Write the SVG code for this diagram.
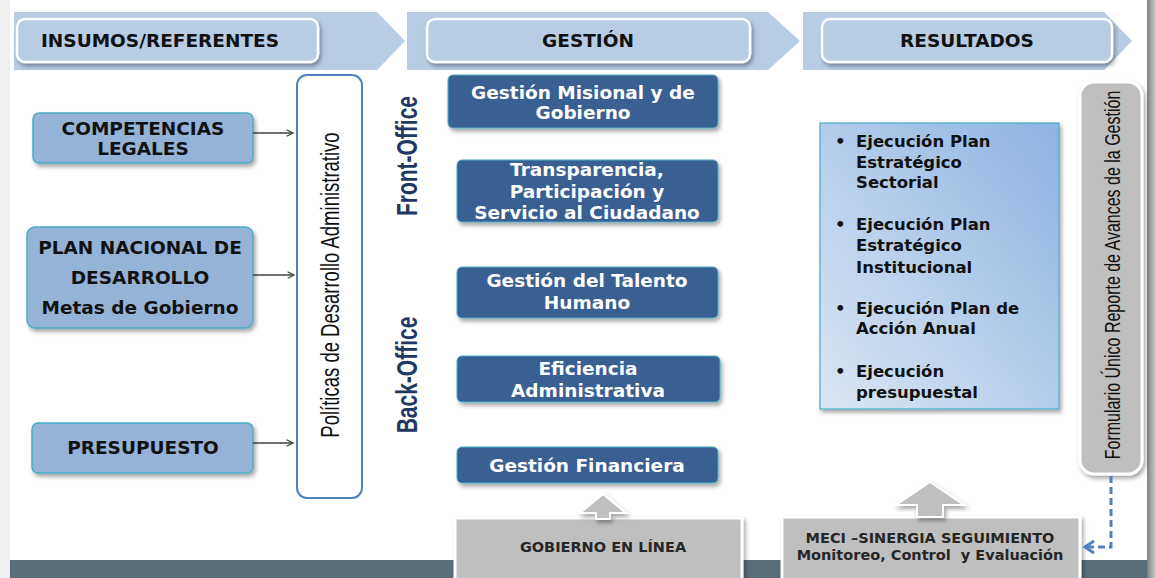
<svg xmlns="http://www.w3.org/2000/svg" width="1156" height="578" viewBox="0 0 1156 578">
<defs>
<style>
.band{fill:#b8cce4}
.pill{fill:#b8cce4;stroke:#ffffff;stroke-width:2.5;filter:url(#sh)}
.htxt{font-family:"DejaVu Sans",sans-serif;font-weight:bold;font-size:18.5px;fill:#111111;text-anchor:middle}
.inbox{fill:#95b3d7;stroke:#4bacc6;stroke-width:1.5;filter:url(#sh)}
.intxt{font-family:"DejaVu Sans",sans-serif;font-weight:bold;font-size:18.5px;fill:#111111;text-anchor:middle}
.gbox{fill:#376092;stroke:#4bacc6;stroke-width:1;filter:url(#sh)}
.gtxt{font-family:"DejaVu Sans",sans-serif;font-weight:bold;font-size:18.5px;fill:#ffffff;text-anchor:middle}
.vtxt{font-family:"Liberation Sans",Arial,sans-serif;font-size:18.5px;fill:#111111;text-anchor:middle}
.office{font-family:"Liberation Sans",Arial,sans-serif;font-weight:bold;font-size:21px;fill:#1f3864;text-anchor:middle}
.rtxt{font-family:"DejaVu Sans",sans-serif;font-weight:bold;font-size:16.5px;fill:#111111}
.graybox{fill:#bfbfbf;stroke:#ffffff;stroke-width:3;filter:url(#sh)}
.btxt{font-family:"DejaVu Sans",sans-serif;font-weight:bold;font-size:14.5px;fill:#262626;text-anchor:middle}
.conn{fill:none;stroke:#404040;stroke-width:1.4;marker-end:url(#openArrow)}
.dash{fill:none;stroke:#4f81bd;stroke-width:3;stroke-dasharray:7 4;marker-end:url(#blueArrow)}
.blockarrow{fill:#bfbfbf;stroke:#ffffff;stroke-width:2;filter:url(#sh)}
</style>
<filter id="sh" x="-10%" y="-10%" width="130%" height="140%">
<feDropShadow dx="2" dy="3" stdDeviation="2" flood-color="#000000" flood-opacity="0.35"/>
</filter>
<linearGradient id="resGrad" x1="0" y1="1" x2="1" y2="0">
<stop offset="0" stop-color="#dce6f2"/>
<stop offset="1" stop-color="#8db3e2"/>
</linearGradient>
<linearGradient id="rightEdge" x1="0" y1="0" x2="1" y2="0">
<stop offset="0" stop-color="#7f7f7f"/>
<stop offset="1" stop-color="#d0d0d0"/>
</linearGradient>
<marker id="openArrow" viewBox="0 0 10 10" refX="9" refY="5" markerWidth="8" markerHeight="8" markerUnits="userSpaceOnUse" orient="auto">
<path d="M1,1 L9,5 L1,9" fill="none" stroke="#404040" stroke-width="1.4"/>
</marker>
<marker id="blueArrow" viewBox="0 0 10 10" refX="8" refY="5" markerWidth="15" markerHeight="15" markerUnits="userSpaceOnUse" orient="auto">
<path d="M2,1 L8,5 L2,9" fill="none" stroke="#4f81bd" stroke-width="2"/>
</marker>
</defs>

<rect x="0" y="0" width="1156" height="578" fill="#ffffff"/>
<rect x="0" y="0" width="10" height="578" fill="#efefef"/>
<rect x="1147" y="0" width="9" height="578" fill="url(#rightEdge)"/>
<rect x="10" y="560" width="1137" height="18" fill="#5a6d79"/>

<g id="header">
<polygon class="band" points="14,12 377,12 405,41 377,70 14,70"/>
<polygon class="band" points="407,12 768,12 800,41 768,70 407,70"/>
<polygon class="band" points="803,12 1104,12 1132,41 1104,70 803,70"/>
<rect class="pill" x="17" y="19" width="301" height="43" rx="8"/>
<text class="htxt" x="160" y="47">INSUMOS/REFERENTES</text>
<rect class="pill" x="427" y="19" width="323" height="43" rx="8"/>
<text class="htxt" x="588" y="47">GESTIÓN</text>
<rect class="pill" x="822" y="19" width="290" height="43" rx="8"/>
<text class="htxt" x="967" y="47">RESULTADOS</text>
</g>

<g id="competencias">
<rect class="inbox" x="33" y="113" width="220" height="50" rx="6"/>
<text class="intxt" x="143" y="135">COMPETENCIAS</text>
<text class="intxt" x="143" y="155">LEGALES</text>
</g>

<g id="plan-nacional">
<rect class="inbox" x="27" y="227" width="226" height="101" rx="8"/>
<text class="intxt" x="140" y="254">PLAN NACIONAL DE</text>
<text class="intxt" x="140" y="284">DESARROLLO</text>
<text class="intxt" x="140" y="314">Metas de Gobierno</text>
</g>

<g id="presupuesto">
<rect class="inbox" x="32" y="423" width="221" height="50" rx="6"/>
<text class="intxt" x="143" y="454">PRESUPUESTO</text>
</g>

<g id="politicas">
<rect x="297" y="75" width="65" height="423" rx="10" fill="#ffffff" stroke="#4f81bd" stroke-width="2"/>
<text class="vtxt" transform="translate(330,285) rotate(-90) scale(1,1.4)" x="0" y="6.5">Políticas de Desarrollo Administrativo</text>
</g>

<g id="front-office">
<text class="office" transform="translate(406,156) rotate(-90) scale(1,1.4)" x="0" y="7.5">Front-Office</text>
</g>
<g id="back-office">
<text class="office" transform="translate(406,375) rotate(-90) scale(1,1.4)" x="0" y="7.5">Back-Office</text>
</g>

<g id="gestion-misional">
<rect class="gbox" x="448" y="75" width="270" height="53" rx="5"/>
<text class="gtxt" x="583" y="99">Gestión Misional y de</text>
<text class="gtxt" x="583" y="119">Gobierno</text>
</g>

<g id="transparencia">
<rect class="gbox" x="457" y="160" width="261" height="62" rx="5"/>
<text class="gtxt" x="587" y="176">Transparencia,</text>
<text class="gtxt" x="587" y="198">Participación y</text>
<text class="gtxt" x="587" y="219">Servicio al Ciudadano</text>
</g>

<g id="talento-humano">
<rect class="gbox" x="457" y="267" width="261" height="51" rx="5"/>
<text class="gtxt" x="587" y="287">Gestión del Talento</text>
<text class="gtxt" x="587" y="309">Humano</text>
</g>

<g id="eficiencia">
<rect class="gbox" x="457" y="356" width="263" height="46" rx="5"/>
<text class="gtxt" x="588" y="375">Eficiencia</text>
<text class="gtxt" x="588" y="397">Administrativa</text>
</g>

<g id="financiera">
<rect class="gbox" x="457" y="447" width="261" height="36" rx="5"/>
<text class="gtxt" x="587" y="472">Gestión Financiera</text>
</g>

<g id="resultados">
<rect x="820" y="123" width="239" height="286" fill="url(#resGrad)" stroke="#4bacc6" stroke-width="1.2" filter="url(#sh)"/>
<text class="rtxt" x="835" y="147">•</text>
<text class="rtxt" x="856" y="147">Ejecución Plan</text>
<text class="rtxt" x="856" y="168">Estratégico</text>
<text class="rtxt" x="856" y="188">Sectorial</text>
<text class="rtxt" x="835" y="230">•</text>
<text class="rtxt" x="856" y="230">Ejecución Plan</text>
<text class="rtxt" x="856" y="251">Estratégico</text>
<text class="rtxt" x="856" y="273">Institucional</text>
<text class="rtxt" x="835" y="314">•</text>
<text class="rtxt" x="856" y="314">Ejecución Plan de</text>
<text class="rtxt" x="856" y="334">Acción Anual</text>
<text class="rtxt" x="835" y="377">•</text>
<text class="rtxt" x="856" y="377">Ejecución</text>
<text class="rtxt" x="856" y="398">presupuestal</text>
</g>

<g id="formulario">
<rect class="graybox" x="1080" y="82" width="62" height="392" rx="14"/>
<text class="vtxt" style="font-size:16px" transform="translate(1112,275) rotate(-90) scale(1,1.4)" x="0" y="5.5">Formulario Único Reporte de Avances de la Gestión</text>
</g>

<g id="gobierno-en-linea">
<rect class="graybox" x="455" y="518" width="287" height="64"/>
<text class="btxt" x="603" y="552">GOBIERNO EN LÍNEA</text>
</g>

<g id="meci">
<rect class="graybox" x="782" y="517" width="298" height="64"/>
<text class="btxt" x="930" y="543">MECI –SINERGIA SEGUIMIENTO</text>
<text class="btxt" x="930" y="560" xml:space="preserve">Monitoreo, Control  y Evaluación</text>
</g>

<g id="connectors">
<line class="conn" x1="253" y1="133" x2="293" y2="133"/>
<line class="conn" x1="253" y1="275" x2="294" y2="275"/>
<line class="conn" x1="253" y1="443" x2="293" y2="443"/>
<path class="dash" d="M1111,476 L1111,547 L1085,547"/>
<polygon class="blockarrow" points="603,494 626,513 610,513 610,519 596,519 596,513 580,513"/>
<polygon class="blockarrow" points="930,482 964,505 943,505 943,517 917,517 917,505 896,505"/>
</g>
</svg>
